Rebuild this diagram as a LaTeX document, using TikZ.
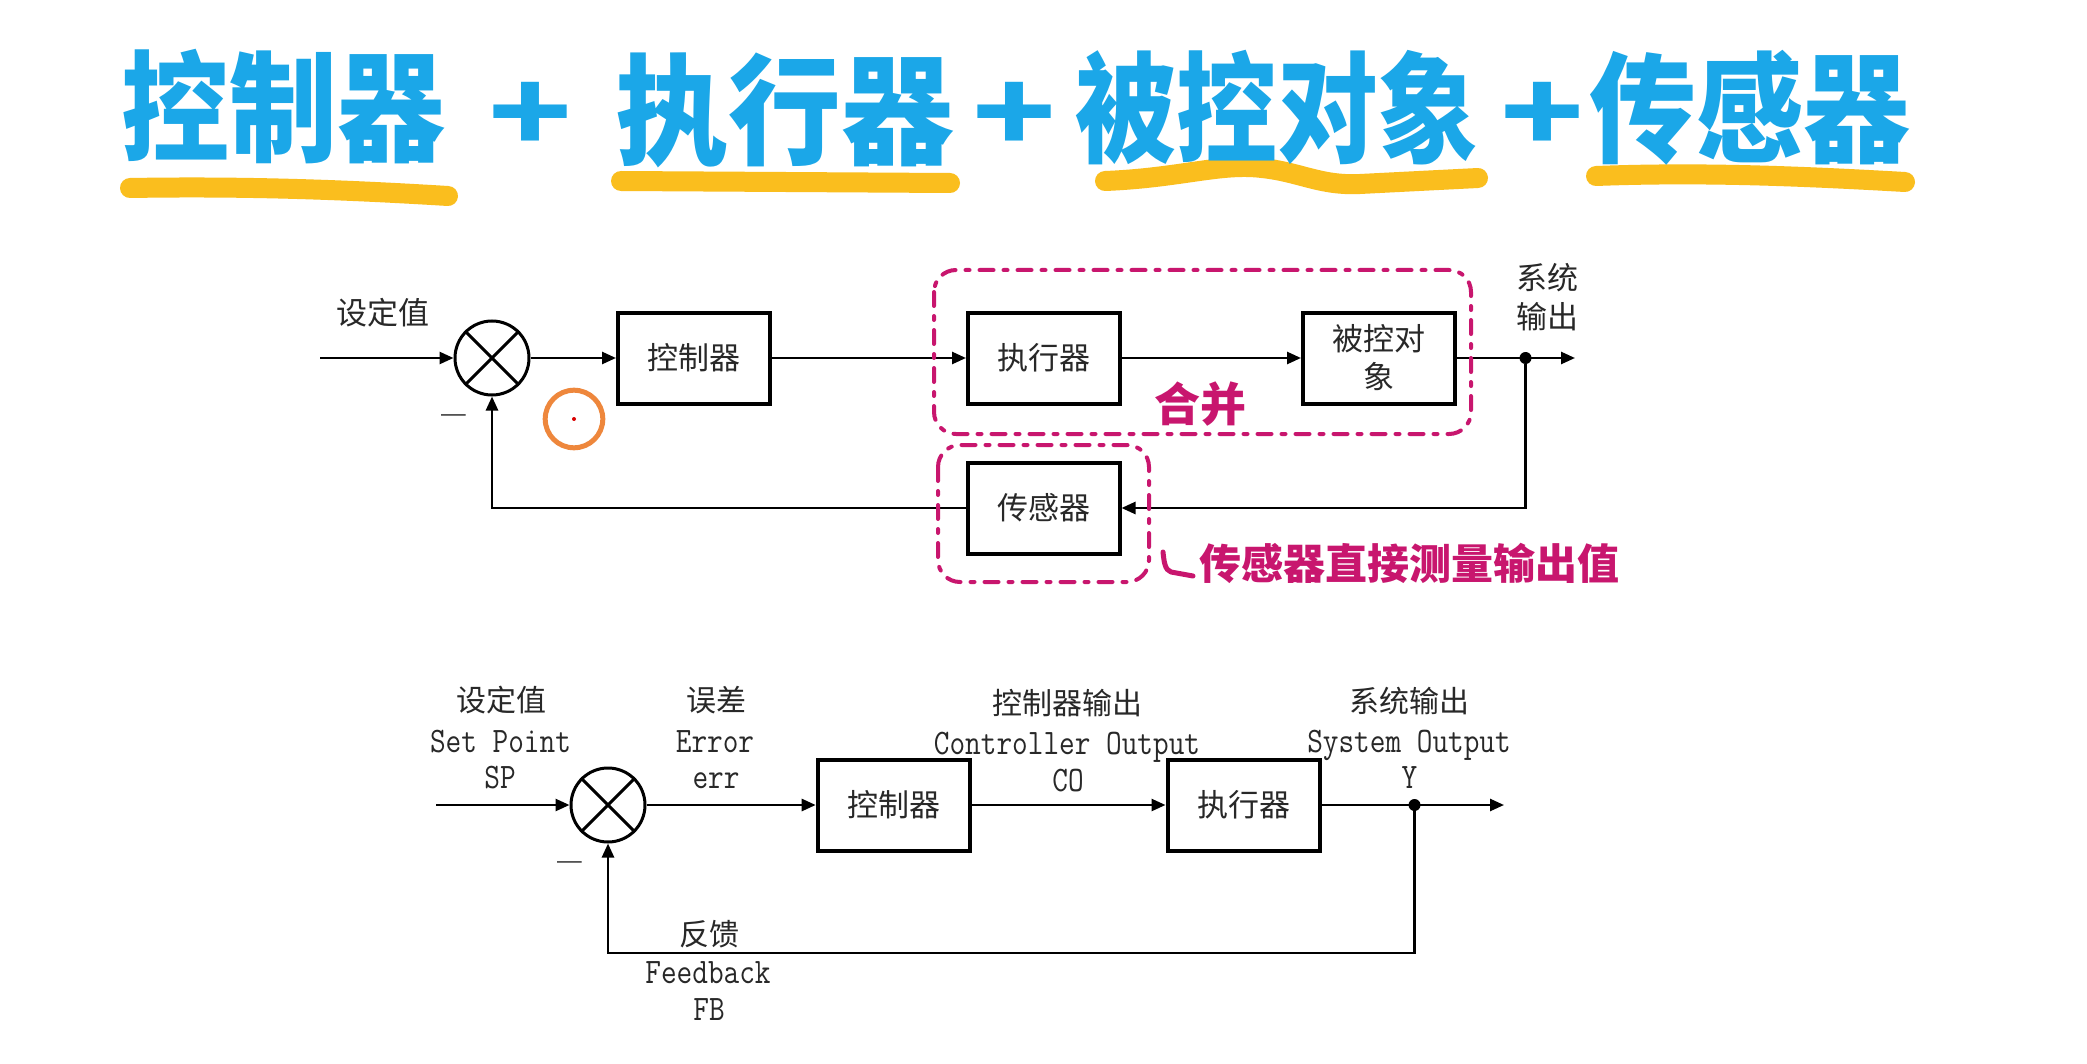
\documentclass[tikz,border=0pt]{standalone}
\usepackage{fontspec}
\usepackage{graphicx}
\usetikzlibrary{arrows.meta}
\newfontfamily\cjk{Noto Sans CJK SC}
\newcommand{\mtxt}[1]{\scalebox{1}[1.18]{\ttfamily\fontsize{15.2}{18}\selectfont #1}}
\newcommand{\tsc}[2]{\scalebox{#1}[1]{#2}}
\definecolor{tblue}{RGB}{27,167,232}
\definecolor{tyel}{RGB}{250,190,30}
\definecolor{mag}{RGB}{200,22,110}
\definecolor{orng}{RGB}{238,135,60}
\definecolor{txt}{RGB}{40,40,40}
\begin{document}
\begin{tikzpicture}[x=0.5pt,y=-0.5pt,
  titlet/.style={text=tblue, font=\cjk\bfseries\fontsize{60}{60}\selectfont, inner sep=0pt},
  yel/.style={draw=tyel, line width=10pt, line cap=round},
  blk/.style={draw=black, line width=2pt, minimum width=76pt, minimum height=45.5pt, inner sep=0pt, text=txt, font=\cjk\fontsize{15.5}{19}\selectfont, align=center},
  sumj/.style={circle, draw=black, line width=1.5pt, minimum size=37pt, inner sep=0pt},
  conn/.style={draw=black, line width=1.3pt, -{Triangle[length=7pt,width=6pt]}},
  wire/.style={draw=black, line width=1.3pt},
  jdot/.style={circle, fill=black, inner sep=0pt, minimum size=6pt},
  lab/.style={text=txt, font=\cjk\fontsize{15}{18}\selectfont, inner sep=0pt},
  labu/.style={text=txt, font=\cjk\fontsize{15.5}{19}\selectfont, inner sep=0pt},
  mlab/.style={text=txt, inner sep=0pt, anchor=base},
  minus/.style={text=txt, inner sep=0pt, font=\bfseries\fontsize{22}{22}\selectfont},
  magdash/.style={draw=mag, line width=2pt, rounded corners=11pt, dash pattern=on 7pt off 5pt on 2pt off 5pt, line cap=round},
  magtext/.style={text=mag, font=\cjk\bfseries\fontsize{21}{21}\selectfont, inner sep=0pt},
]
\fill[white] (0,0) rectangle (2087,1064);
\path[use as bounding box] (0,0) rectangle (2087,1064);

% ---------- title ----------
\draw[yel] (130,188) .. controls (250,186) and (350,190) .. (448,196);
\draw[yel] (621,181) -- (950,183);
\draw[yel] (1105,181) .. controls (1180,178) and (1220,163) .. (1262,168) .. controls (1300,172) and (1320,186) .. (1360,184) -- (1478,178);
\draw[yel] (1596,176) .. controls (1700,172) and (1800,176) .. (1905,182);

\node[titlet] (t1) at (283,107) {\tsc{0.90}{控制器}};
\node[titlet] (p1) at (531,117) {\scalebox{1.15}[0.9]{+}};
\node[titlet] (t2) at (785,110) {\tsc{0.94}{执行器}};
\node[titlet] (p2) at (1015,117) {\scalebox{1.15}[0.9]{+}};
\node[titlet] (t3) at (1277,108) {\tsc{0.84}{被控对象}};
\node[titlet] (p3) at (1543,117) {\scalebox{1.15}[0.9]{+}};
\node[titlet] (t4) at (1750,108) {\tsc{0.89}{传感器}};

% ---------- upper diagram ----------
\coordinate (in1) at (320,358);
\node[sumj] (sum1) at (492,358) {};
\draw[line width=1.5pt] (sum1.45) -- (sum1.225) (sum1.135) -- (sum1.315);
\node[blk] (ctrl1) at (694,358) {控制器};
\node[blk] (act1) at (1044,358) {执行器};
\node[blk] (plant1) at (1379,358) {被控对\\象};
\node[blk] (sens1) at (1043.5,508) {传感器};
\node[jdot] (j1) at (1525.5,358) {};
\coordinate (out1) at (1575,358);

\draw[conn] (in1) -- (sum1.west);
\draw[conn] (sum1.east) -- (ctrl1.west);
\draw[conn] (ctrl1.east) -- (act1.west);
\draw[conn] (act1.east) -- (plant1.west);
\draw[conn] (plant1.east) -- (out1);
\draw[conn] (j1) |- (sens1.east);
\draw[conn] (sens1.west) -| (sum1.south);

\node[labu] (sp1) at (383,313) {设定值};
\node[labu] (so1a) at (1547,278) {系统};
\node[labu] (so1b) at (1547,317) {输出};
\node[minus] (m1) at (454,421) {–};

% annotations
\node[circle, draw=orng, line width=2.5pt, minimum size=28.8pt, inner sep=0pt] (oc) at (574,419) {};
\node[circle, fill=red!85!black, inner sep=0pt, minimum size=2pt] (rd) at (574,419) {};
\draw[magdash] (934,270) rectangle (1471,434);
\draw[magdash] (938,445) rectangle (1149,582);
\node[magtext, font=\cjk\bfseries\fontsize{23}{23}\selectfont] (hb) at (1200,404) {合并};
\draw[mag, line width=2.5pt, line cap=round, line join=round] (1163,552) .. controls (1164,562) and (1165,570) .. (1171,572) -- (1193,576);
\node[magtext] (note) at (1409.5,563) {传感器直接测量输出值};

% ---------- lower diagram ----------
\coordinate (in2) at (436,805);
\node[sumj] (sum2) at (608,805) {};
\draw[line width=1.5pt] (sum2.45) -- (sum2.225) (sum2.135) -- (sum2.315);
\node[blk] (ctrl2) at (893.7,805) {控制器};
\node[blk] (act2) at (1243.5,805) {执行器};
\node[jdot] (j2) at (1414.5,805) {};
\coordinate (out2) at (1504,805);
\coordinate (c2) at (1414.5,953);

\draw[conn] (in2) -- (sum2.west);
\draw[conn] (sum2.east) -- (ctrl2.west);
\draw[conn] (ctrl2.east) -- (act2.west);
\draw[conn] (act2.east) -- (out2);
\draw[conn] (j2) -- (c2) -| (sum2.south);

\node[lab] (l1a) at (501,700) {设定值};
\node[mlab] (l1b) at (500.5,752) {\mtxt{Set Point}};
\node[mlab] (l1c) at (500,788) {\mtxt{SP}};
\node[lab] (l2a) at (716,700) {误差};
\node[mlab] (l2b) at (715,752) {\mtxt{Error}};
\node[mlab] (l2c) at (716,788) {\mtxt{err}};
\node[lab] (l3a) at (1067,703) {控制器输出};
\node[mlab] (l3b) at (1067,754) {\mtxt{Controller Output}};
\node[mlab] (l3c) at (1068,791) {\mtxt{CO}};
\node[lab] (l4a) at (1409,701) {系统输出};
\node[mlab] (l4b) at (1409,752) {\mtxt{System Output}};
\node[mlab] (l4c) at (1409.5,788) {\mtxt{Y}};
\node[lab] (l5a) at (709,934) {反馈};
\node[mlab] (l5b) at (708,983) {\mtxt{Feedback}};
\node[mlab] (l5c) at (709,1020) {\mtxt{FB}};
\node[minus] (m2) at (570,868) {–};
\end{tikzpicture}
\end{document}
